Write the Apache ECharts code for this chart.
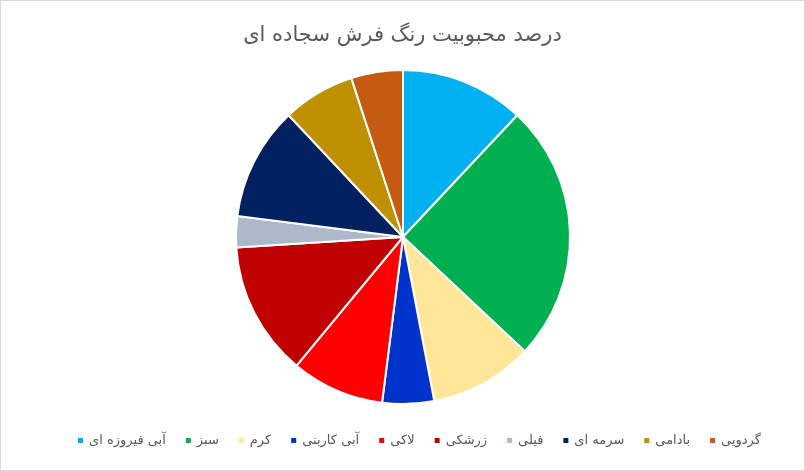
<!DOCTYPE html>
<html>
<head>
<meta charset="utf-8">
<script src="https://cdn.jsdelivr.net/npm/echarts@6/dist/echarts.min.js"></script>
<style>
  html, body { margin: 0; padding: 0; background: #fff; }
  #chart { width: 803px; height: 469px; border: 1px solid #d9d9d9; }
</style>
</head>
<body>
<div id="chart"></div>
<script>
// رنگ‌ها و درصدها به ترتیب برش‌ها (ساعتگرد از بالا)
var names = ['آبی فیروزه ای', 'سبز', 'کرم', 'آبی کاربنی', 'لاکی', 'زرشکی', 'فیلی', 'سرمه ای', 'بادامی', 'گردویی'];
var values = [12, 25, 10, 5, 9, 13, 3, 11, 7, 5];
var colors = ['#00B0F0', '#00B050', '#FFE699', '#0033CC', '#FF0000', '#C00000', '#ADB9CA', '#002060', '#BF9000', '#C55A11'];

var chartDom = document.getElementById('chart');
var myChart = echarts.init(chartDom);
var option = {
    animation: false,
    title: {
        text: 'درصد محبوبیت رنگ فرش سجاده ای',
        left: 'center',
        top: 19,
        textStyle: { fontFamily: 'DejaVu Sans', fontSize: 21, fontWeight: 'normal', color: '#595959' }
    },
    legend: {
        top: 428,
        left: 70,
        itemWidth: 7,
        itemHeight: 7,
        itemGap: 18,
        icon: 'rect',
        textStyle: { fontFamily: 'DejaVu Sans', fontSize: 13, color: '#595959' },
        data: names
    },
    series: [{
        type: 'pie',
        center: [402, 236],
        radius: 167,
        startAngle: 90,
        clockwise: true,
        label: { show: false },
        labelLine: { show: false },
        itemStyle: { borderColor: '#fff', borderWidth: 2 },
        data: names.map(function (n, i) {
            return { name: n, value: values[i], itemStyle: { color: colors[i] } };
        })
    }]
};
myChart.setOption(option);
</script>
</body>
</html>
